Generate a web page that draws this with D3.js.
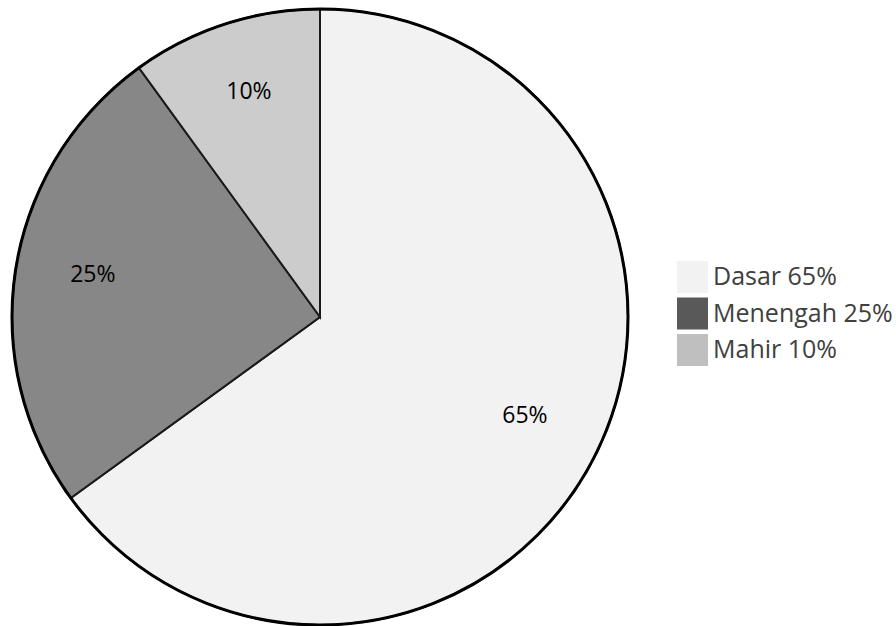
<!DOCTYPE html>
<html>
<head>
<meta charset="utf-8">
<script src="https://cdn.jsdelivr.net/npm/d3@7"></script>
<style>
  body { margin: 0; background: #fff; }
  text { font-family: "Open Sans", "DejaVu Sans", sans-serif; }
</style>
</head>
<body>
<div id="chart"></div>
<script>
// data
const categories = ['Dasar', 'Menengah', 'Mahir'];
const values = [65, 25, 10];
const sliceColors = ['#f2f2f2', '#878787', '#cccccc'];
const legendColors = ['#f2f2f2', '#595959', '#bfbfbf'];

// size
var width = 896, height = 626;
var cx = 320, cy = 317, radius = 308;

var svg = d3.select('#chart')
  .append('svg')
  .attr('width', width)
  .attr('height', height);

var g = svg.append('g')
  .attr('transform', 'translate(' + cx + ',' + cy + ')');

var pie = d3.pie().sort(null).value(function(d){ return d; });
var arcs = pie(values);

var arc = d3.arc().innerRadius(0).outerRadius(radius);
var labelArc = d3.arc().innerRadius(230).outerRadius(230);

g.selectAll('path.slice')
  .data(arcs)
  .enter()
  .append('path')
  .attr('class', 'slice')
  .attr('d', arc)
  .style('fill', function(d, i){ return sliceColors[i]; })
  .style('stroke', '#1a1a1a')
  .style('stroke-width', 2);

// outer border a bit thicker
g.append('circle')
  .attr('r', radius)
  .style('fill', 'none')
  .style('stroke', '#000')
  .style('stroke-width', 3);

g.selectAll('text.lbl')
  .data(arcs)
  .enter()
  .append('text')
  .attr('class', 'lbl')
  .attr('transform', function(d){ return 'translate(' + labelArc.centroid(d) + ')'; })
  .attr('text-anchor', 'middle')
  .attr('dy', '0.05em')
  .style('font-size', '23px')
  .style('fill', '#000')
  .text(function(d){ return d.data + '%'; });

//=========legend==========
var legend = svg.append('g')
  .attr('transform', 'translate(677,261)');

var item = legend.selectAll('g.item')
  .data(categories)
  .enter()
  .append('g')
  .attr('class', 'item')
  .attr('transform', function(d, i){ return 'translate(0,' + (i * 36.5) + ')'; });

item.append('rect')
  .attr('width', 31)
  .attr('height', 32)
  .style('fill', function(d, i){ return legendColors[i]; });

item.append('text')
  .attr('x', 36)
  .attr('y', 24)
  .style('font-size', '25px')
  .style('fill', '#404040')
  .text(function(d, i){ return d + ' ' + values[i] + '%'; });
</script>
</body>
</html>
